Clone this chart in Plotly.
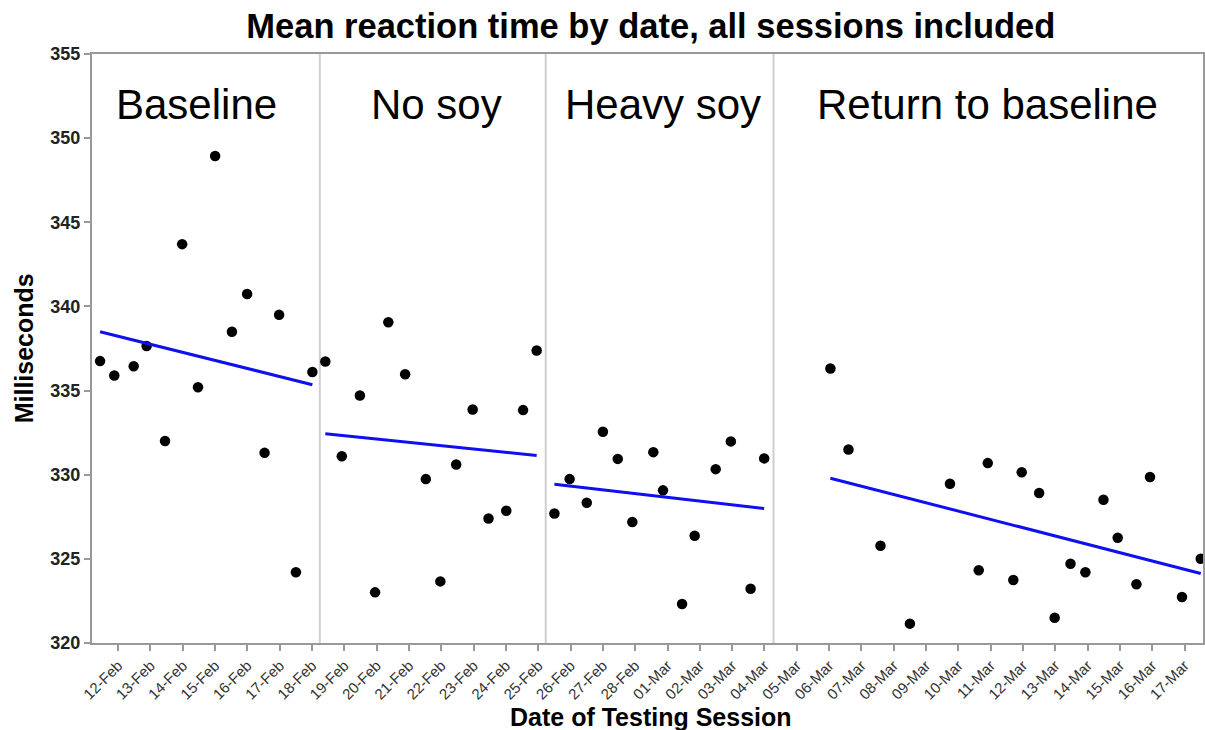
import numpy as np
import plotly.graph_objects as go

# Session positions are days counted from 12-Feb (fractions = time of day)
baseline_x = [-0.56, -0.12, 0.48, 0.88, 1.45, 1.98, 2.47, 3.00, 3.52, 3.99, 4.53, 4.98, 5.50, 6.01]
baseline_y = [336.75, 335.90, 336.45, 337.65, 332.00, 343.70, 335.20, 348.94, 338.50, 340.74,
              331.30, 339.50, 324.20, 336.10]

nosoy_x = [6.41, 6.92, 7.48, 7.95, 8.36, 8.88, 9.52, 9.97, 10.46, 10.97, 11.46, 12.01, 12.53, 12.95]
nosoy_y = [336.73, 331.10, 334.71, 323.01, 339.06, 335.97, 329.74, 323.66, 330.61, 333.88,
           327.40, 327.86, 333.84, 337.38]

heavysoy_x = [13.50, 13.97, 14.50, 15.00, 15.46, 15.91, 16.56, 16.86, 17.45, 17.84, 18.49, 18.96,
              19.57, 19.99]
heavysoy_y = [327.70, 329.74, 328.33, 332.55, 330.94, 327.19, 331.34, 329.07, 322.32, 326.37,
              330.33, 331.98, 323.22, 330.97]

return_x = [22.04, 22.60, 23.59, 24.50, 25.74, 26.63, 26.91, 27.70, 27.96, 28.50, 28.98, 29.47,
            29.93, 30.49, 30.93, 31.51, 31.93, 32.92, 33.50]
return_y = [336.31, 331.50, 325.78, 321.15, 329.46, 324.32, 330.69, 323.74, 330.15, 328.91,
            321.50, 324.71, 324.20, 328.51, 326.25, 323.49, 329.86, 322.73, 325.01]

phase_names = ["Baseline", "No soy", "Heavy soy", "Return to baseline"]
phase_label_x = [2.41, 9.85, 16.85, 26.9]
phase_boundaries = [6.24, 13.23, 20.28]

tick_labels = ["12-Feb", "13-Feb", "14-Feb", "15-Feb", "16-Feb", "17-Feb", "18-Feb", "19-Feb",
               "20-Feb", "21-Feb", "22-Feb", "23-Feb", "24-Feb", "25-Feb", "26-Feb", "27-Feb",
               "28-Feb", "01-Mar", "02-Mar", "03-Mar", "04-Mar", "05-Mar", "06-Mar", "07-Mar",
               "08-Mar", "09-Mar", "10-Mar", "11-Mar", "12-Mar", "13-Mar", "14-Mar", "15-Mar",
               "16-Mar", "17-Mar"]

FONT = "Liberation Sans, Arial, sans-serif"
phases = [(baseline_x, baseline_y), (nosoy_x, nosoy_y),
          (heavysoy_x, heavysoy_y), (return_x, return_y)]

fig = go.Figure()

for px, py in phases:
    fig.add_trace(go.Scatter(
        x=px, y=py, mode="markers",
        marker=dict(color="black", size=10.5),
        showlegend=False, hoverinfo="x+y"))

# Least-squares trend line for each phase, spanning its first to last session
for px, py in phases:
    slope, intercept = np.polyfit(px, py, 1)
    xs = np.array([min(px), max(px)])
    fig.add_trace(go.Scatter(
        x=xs, y=slope * xs + intercept, mode="lines",
        line=dict(color="rgb(15,15,240)", width=3),
        showlegend=False, hoverinfo="skip"))

for b in phase_boundaries:
    fig.add_shape(type="line", xref="x", yref="paper", x0=b, x1=b, y0=0, y1=1,
                  line=dict(color="#cfcfcf", width=2), layer="below")

for name, lx in zip(phase_names, phase_label_x):
    fig.add_annotation(x=lx, y=352.0, xref="x", yref="y", text=name, showarrow=False,
                       xanchor="center", yanchor="middle",
                       font=dict(family=FONT, size=42, color="black"))

fig.add_annotation(x=0.503, y=-0.1256, xref="paper", yref="paper",
                   text="Date of Testing Session", showarrow=False,
                   xanchor="center", yanchor="middle",
                   font=dict(family=FONT, size=25, color="black", weight="bold"))
fig.add_annotation(x=-0.0611, y=0.5005, xref="paper", yref="paper",
                   text="Milliseconds", showarrow=False, textangle=-90,
                   xanchor="center", yanchor="middle",
                   font=dict(family=FONT, size=25, color="black", weight="bold"))

fig.update_layout(
    width=1205, height=730,
    margin=dict(l=92, r=0, t=54, b=87),
    paper_bgcolor="white", plot_bgcolor="white",
    title=dict(text="Mean reaction time by date, all sessions included",
               x=0.503, xref="paper", xanchor="center",
               y=1 - 26 / 730, yref="container", yanchor="middle",
               font=dict(family=FONT, size=34.5, color="black", weight="bold")),
    xaxis=dict(range=[-0.81, 33.57], tickmode="array",
               tickvals=list(range(len(tick_labels))), ticktext=tick_labels,
               tickangle=-45, ticks="outside", ticklen=6, tickwidth=1.5, tickcolor="#999",
               tickfont=dict(family=FONT, size=15, color="#333"),
               showline=True, linecolor="#999", linewidth=2, mirror=True,
               showgrid=False, zeroline=False),
    yaxis=dict(range=[320, 355], tickmode="array",
               tickvals=[320, 325, 330, 335, 340, 345, 350, 355],
               ticks="outside", ticklen=6, tickwidth=1.5, tickcolor="#999",
               tickfont=dict(family=FONT, size=18, color="#222", weight="bold"),
               showline=True, linecolor="#999", linewidth=2, mirror=True,
               showgrid=False, zeroline=False),
)

fig.write_html("out.html")
